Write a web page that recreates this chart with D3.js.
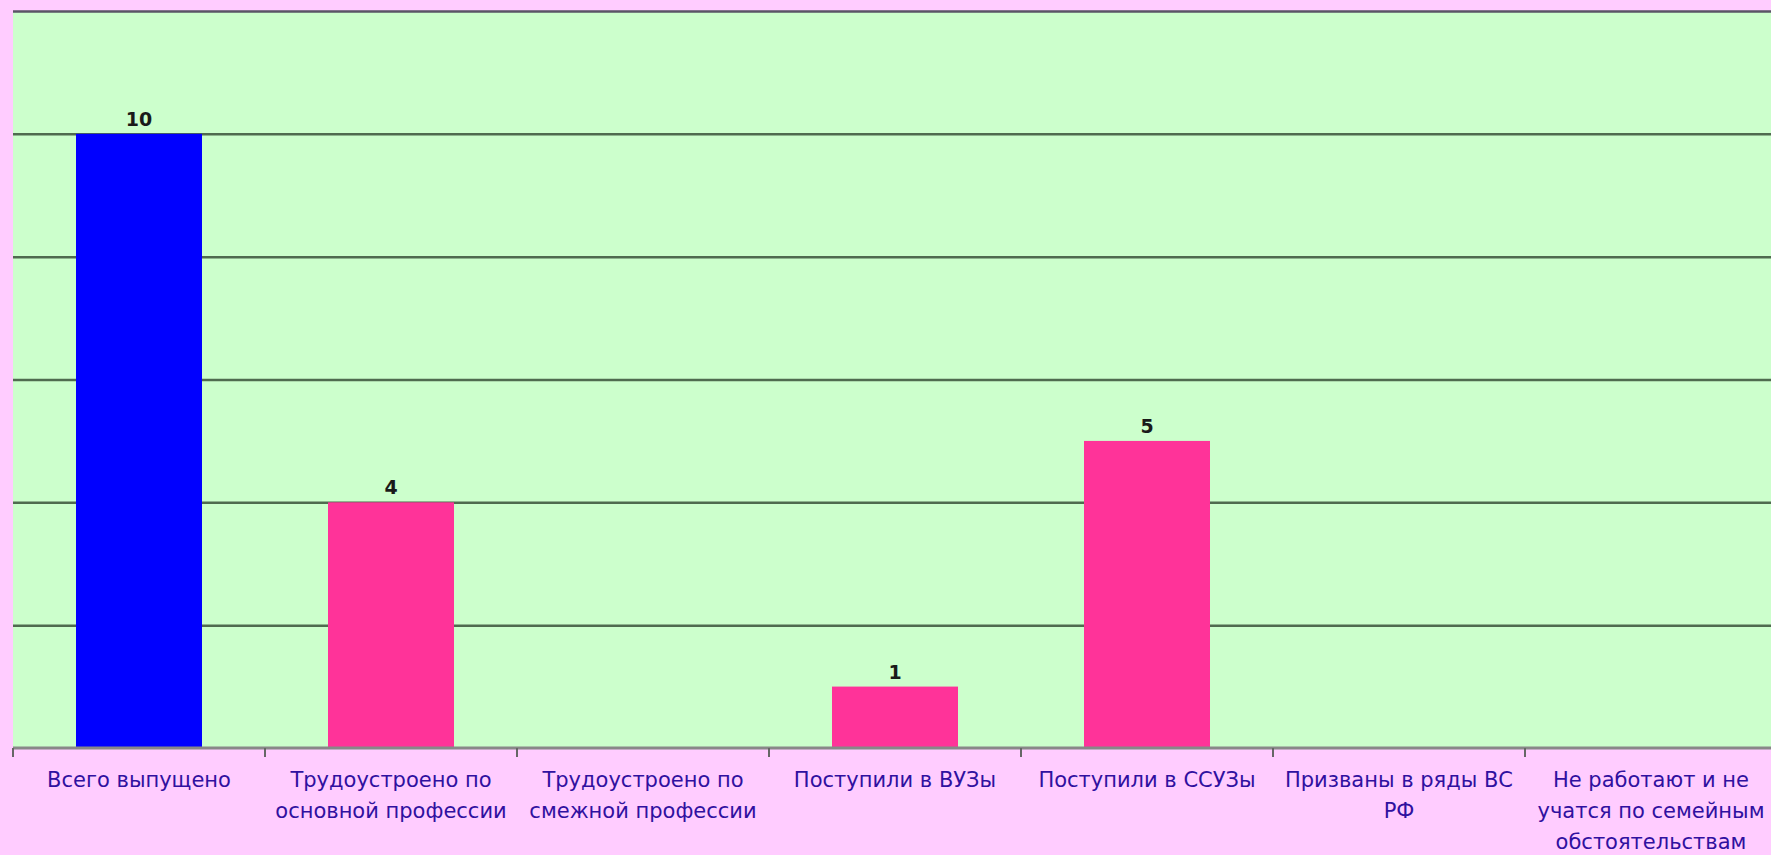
<!DOCTYPE html>
<html lang="ru">
<head>
  <meta charset="UTF-8">
  <title>Выпуск</title>
  <script src="https://d3js.org/d3.v7.min.js"></script>
  <style>
    body{
      margin:0;
      background:#ffccff;
      font-family: "DejaVu Sans", Verdana, sans-serif;
    }
  </style>
</head>
<body>
<div id="chart"></div>
<script>
// chart data
var categories = ["Всего выпущено", "Трудоустроено по основной профессии", "Трудоустроено по смежной профессии",
  "Поступили в ВУЗы", "Поступили в ССУЗы", "Призваны в ряды ВС РФ", "Не работают и не учатся по семейным обстоятельствам"];
var labelLines = [
  ["Всего выпущено"],
  ["Трудоустроено по", "основной профессии"],
  ["Трудоустроено по", "смежной профессии"],
  ["Поступили в ВУЗы"],
  ["Поступили в ССУЗы"],
  ["Призваны в ряды ВС", "РФ"],
  ["Не работают и не", "учатся по семейным", "обстоятельствам"]
];
var values = [10, 4, 0, 1, 5, 0, 0];
var gridTicks = [0, 2, 4, 6, 8, 10, 12];

var W = 1771, H = 855;
var plotLeft = 13, plotTop = 11, plotBottom = 748;
var step = 252;
var plotWidth = step * categories.length;

var svg = d3.select("#chart").append("svg")
  .attr("width", W).attr("height", H);

// scales
var x = d3.scaleBand()
  .domain(categories)
  .range([plotLeft, plotLeft + plotWidth])
  .paddingInner(0.5)
  .paddingOuter(0.25);

var y = d3.scaleLinear()
  .domain([0, 12])
  .range([plotBottom, plotTop]);

// plot area background
svg.append("rect")
  .attr("x", plotLeft).attr("y", plotTop)
  .attr("width", plotWidth).attr("height", plotBottom - plotTop)
  .attr("fill", "#ccffcc");

// gridlines
var grid = svg.append("g")
  .attr("transform", "translate(" + plotLeft + ",0)")
  .call(d3.axisLeft(y).tickValues(gridTicks.slice(1)).tickSize(-plotWidth).tickFormat(""));
grid.select(".domain").remove();
grid.selectAll(".tick line")
  .attr("stroke", function(d){ return d == 12 ? "#5a5566" : "#4f6b4f"; })
  .attr("stroke-width", 2.5);

// bars
svg.selectAll("rect.bar")
  .data(values)
  .enter().append("rect")
  .attr("class", "bar")
  .attr("x", function(d, i){ return x(categories[i]); })
  .attr("width", x.bandwidth())
  .attr("y", function(d){ return y(d); })
  .attr("height", function(d){ return plotBottom - y(d); })
  .attr("fill", function(d, i){ return i == 0 ? "#0000ff" : "#ff3399"; });

// value labels (only non-zero bars)
var labelled = values.map(function(v, i){ return {v: v, c: categories[i]}; })
  .filter(function(d){ return d.v > 0; });
svg.selectAll("text.val")
  .data(labelled)
  .enter().append("text")
  .attr("class", "val")
  .attr("x", function(d){ return x(d.c) + x.bandwidth() / 2; })
  .attr("y", function(d){ return y(d.v) - 8; })
  .attr("text-anchor", "middle")
  .attr("font-size", "19px")
  .attr("font-weight", "bold")
  .attr("fill", "#1a1a1a")
  .text(function(d){ return d.v; });

// x axis line and boundary ticks
svg.append("line")
  .attr("x1", plotLeft).attr("x2", plotLeft + plotWidth)
  .attr("y1", plotBottom).attr("y2", plotBottom)
  .attr("stroke", "#888").attr("stroke-width", 3);

svg.selectAll("line.tk")
  .data(d3.range(categories.length + 1))
  .enter().append("line")
  .attr("class", "tk")
  .attr("x1", function(i){ return plotLeft + step * i; })
  .attr("x2", function(i){ return plotLeft + step * i; })
  .attr("y1", plotBottom).attr("y2", plotBottom + 9)
  .attr("stroke", "#666").attr("stroke-width", 2);

// category labels
var lab = svg.selectAll("text.cat")
  .data(labelLines)
  .enter().append("text")
  .attr("class", "cat")
  .attr("text-anchor", "middle")
  .attr("font-size", "21px")
  .attr("fill", "#3010a0");
lab.selectAll("tspan")
  .data(function(d, i){ return d.map(function(s){ return {s: s, i: i}; }); })
  .enter().append("tspan")
  .attr("x", function(d){ return x(categories[d.i]) + x.bandwidth() / 2; })
  .attr("y", function(d, j){ return 787 + j * 31; })
  .text(function(d){ return d.s; });
</script>
</body>
</html>
